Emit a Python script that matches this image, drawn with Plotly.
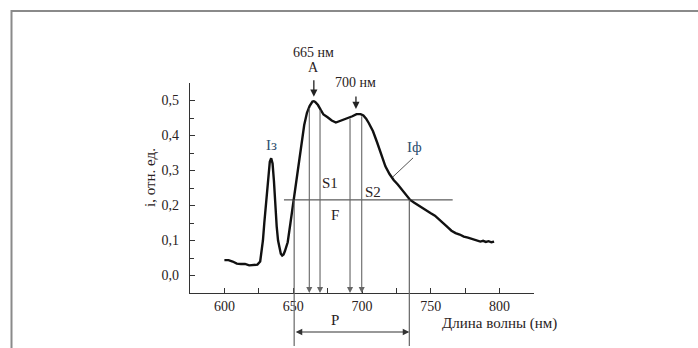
import numpy as np
import plotly.graph_objects as go

# ---- data ----
wavelength = [600, 603, 606, 609, 612, 615, 618, 621, 624, 626, 627, 628, 629, 630, 631, 632, 633, 634,
              635, 636, 637, 638, 639, 640, 641, 642, 643, 644, 646, 648, 650, 652, 654, 656, 658, 660,
              662, 664, 665, 666, 668, 670, 672, 675, 678, 681, 684, 687, 690, 693, 696, 699, 701, 703,
              705, 708, 711, 714, 717, 720, 723, 726, 729, 732, 735, 738, 741, 744, 747, 750, 753, 756,
              759, 762, 765, 768, 771, 774, 777, 780, 783, 786, 788, 790, 792, 794, 796]
intensity = [0.044, 0.044, 0.040, 0.034, 0.033, 0.033, 0.029, 0.029, 0.031, 0.040, 0.070, 0.100, 0.150,
             0.190, 0.240, 0.290, 0.325, 0.335, 0.320, 0.270, 0.200, 0.140, 0.100, 0.075, 0.062, 0.057,
             0.060, 0.070, 0.095, 0.150, 0.205, 0.260, 0.310, 0.370, 0.430, 0.465, 0.485, 0.497, 0.498,
             0.496, 0.487, 0.473, 0.460, 0.452, 0.443, 0.437, 0.441, 0.447, 0.451, 0.455, 0.461, 0.461,
             0.457, 0.448, 0.435, 0.412, 0.380, 0.345, 0.312, 0.290, 0.273, 0.260, 0.245, 0.228, 0.216,
             0.208, 0.200, 0.194, 0.186, 0.178, 0.171, 0.161, 0.150, 0.139, 0.128, 0.121, 0.117, 0.111,
             0.108, 0.104, 0.100, 0.097, 0.099, 0.096, 0.098, 0.095, 0.097]

x_tick_vals = [600, 650, 700, 750, 800]
x_tick_labels = ["600", "650", "700", "750", "800"]
x_minor_vals = [575, 600, 625, 650, 675, 700, 725, 750, 775, 800, 825]
y_tick_vals = [0.0, 0.1, 0.2, 0.3, 0.4, 0.5]
y_tick_labels = ["0,0", "0,1", "0,2", "0,3", "0,4", "0,5"]
y_minor_vals = [-0.05, 0.0, 0.05, 0.1, 0.15, 0.2, 0.25, 0.3, 0.35, 0.4, 0.45, 0.5, 0.55]

level_F = 0.216            # horizontal threshold line
level_span = [643.3, 765.9]
P_bounds = [650.7, 734.4]  # P interval
S_arrows = [661.7, 669.5, 691.3, 699.8]
peak_A = 665
peak_B = 695.6

X_RANGE = [575, 825]
Y_RANGE = [-0.05, 0.55]

W, H = 698, 348
ML, MR, MT, MB = 190, 164, 83, 55

SERIF = "Liberation Serif, Times New Roman, serif"
TXT = "#2a2222"
BLUE = "#2f4f70"
GRAY = "#666666"

def py_paper(px):
    """pixel row -> paper y"""
    return (H - MB - px) / (H - MT - MB)

def px_paper(px):
    return (px - ML) / (W - ML - MR)

def val_paper(v):
    return (v - Y_RANGE[0]) / (Y_RANGE[1] - Y_RANGE[0])

fig = go.Figure()
fig.add_trace(go.Scatter(x=wavelength, y=intensity, mode="lines",
                         line=dict(color="#111111", width=2.4), hoverinfo="skip"))

shapes = []
annotations = []

def label(text, x, y, xref, yref, size=14, color=TXT, angle=0):
    annotations.append(dict(x=x, y=y, xref=xref, yref=yref, text=text, showarrow=False,
                            xanchor="center", yanchor="middle", textangle=angle,
                            font=dict(family=SERIF, size=size, color=color)))

# frame (page border)
shapes.append(dict(type="line", xref="paper", yref="paper", x0=px_paper(11), x1=px_paper(698),
                   y0=py_paper(11), y1=py_paper(11), line=dict(color="#8a8a8a", width=2)))
shapes.append(dict(type="line", xref="paper", yref="paper", x0=px_paper(11.5), x1=px_paper(11.5),
                   y0=py_paper(10), y1=py_paper(348), line=dict(color="#8a8a8a", width=2)))

# horizontal F line
shapes.append(dict(type="line", xref="x", yref="y", x0=level_span[0], x1=level_span[1],
                   y0=level_F, y1=level_F, line=dict(color="#333333", width=1)))

# P boundary vertical lines
for xb in P_bounds:
    shapes.append(dict(type="line", xref="x", yref="paper", x0=xb, x1=xb,
                       y0=val_paper(level_F), y1=py_paper(346), line=dict(color=GRAY, width=1.2)))

# S arrows from curve to axis
for xs in S_arrows:
    yc = float(np.interp(xs, wavelength, intensity))
    annotations.append(dict(x=xs, y=Y_RANGE[0], xref="x", yref="y", ax=xs, ay=yc,
                            axref="x", ayref="y", text="", showarrow=True, arrowhead=2,
                            arrowsize=1.1, arrowwidth=1.1, arrowcolor=GRAY, standoff=0))

# P double arrow
annotations.append(dict(x=P_bounds[1], y=py_paper(332), xref="x", yref="paper",
                        ax=P_bounds[0], ay=0, axref="x", ayref="pixel", text="",
                        showarrow=True, arrowhead=2, startarrowhead=2, arrowside="end+start",
                        arrowsize=1.1, arrowwidth=1.2, arrowcolor="#333333", standoff=0, startstandoff=0))
label("P", 680.4, py_paper(320), "x", "paper", size=15)

# peak arrows
annotations.append(dict(x=peak_A, y=0.511, xref="x", yref="y", ax=0, ay=-18, text="",
                        showarrow=True, arrowhead=2, arrowsize=1.1, arrowwidth=1.3,
                        arrowcolor="#222222", standoff=0))
annotations.append(dict(x=peak_B, y=0.476, xref="x", yref="y", ax=0, ay=-14, text="",
                        showarrow=True, arrowhead=2, arrowsize=1.1, arrowwidth=1.3,
                        arrowcolor="#222222", standoff=0))
label("665 нм", peak_A, py_paper(52), "x", "paper", size=14)
label("A", peak_A, py_paper(67), "x", "paper", size=14)
label("700 нм", peak_B, py_paper(82), "x", "paper", size=14)

# in-plot labels
label("Iз", 633.9, 0.373, "x", "y", size=15, color=BLUE)
label("S1", 676.7, 0.265, "x", "y", size=15)
label("S2", 708.0, 0.239, "x", "y", size=15)
label("F", 680.4, 0.173, "x", "y", size=15)
label("Iф", 738.5, 0.368, "x", "y", size=15, color=BLUE)
# leader for Iф
shapes.append(dict(type="line", xref="x", yref="y", x0=737.1, x1=722.5, y0=0.336, y1=0.282,
                   line=dict(color="#555555", width=1)))

# axis titles
label("i, отн. ед.", px_paper(150), py_paper(178), "paper", "paper", size=15, angle=-90)
label("Длина волны (нм)", px_paper(499), py_paper(323), "paper", "paper", size=15)

fig.update_layout(
    width=W, height=H, margin=dict(l=ML, r=MR, t=MT, b=MB),
    paper_bgcolor="white", plot_bgcolor="white", showlegend=False,
    shapes=shapes, annotations=annotations,
    xaxis=dict(range=X_RANGE, showgrid=False, zeroline=False, showline=True,
               linecolor="#333333", linewidth=1.2, ticks="inside", ticklen=5,
               tickcolor="#333333", tickvals=x_tick_vals, ticktext=x_tick_labels,
               minor=dict(tickvals=x_minor_vals, ticks="inside", ticklen=5, tickcolor="#333333"),
               tickfont=dict(family=SERIF, size=14, color=TXT), ticklabelstandoff=0),
    yaxis=dict(range=Y_RANGE, showgrid=False, zeroline=False, showline=True,
               linecolor="#333333", linewidth=1.2, ticks="inside", ticklen=5,
               tickcolor="#333333", tickvals=y_tick_vals, ticktext=y_tick_labels,
               minor=dict(tickvals=y_minor_vals, ticks="inside", ticklen=4, tickcolor="#333333"),
               tickfont=dict(family=SERIF, size=14, color=TXT), ticklabelstandoff=7),
)

fig.write_html("out.html")
